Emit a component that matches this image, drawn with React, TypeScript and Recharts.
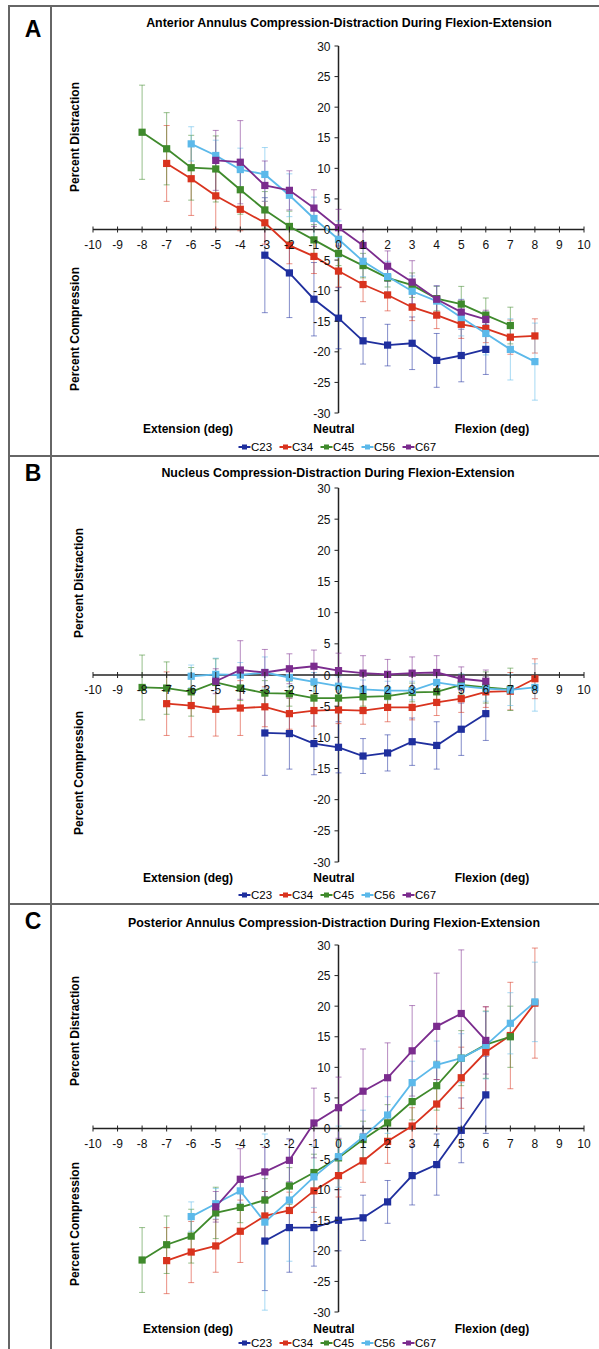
import React from 'react';
import { LineChart, Line, XAxis, YAxis, ErrorBar, ReferenceLine } from 'recharts';

// ---------- data ----------
const degrees = [-8, -7, -6, -5, -4, -3, -2, -1, 0, 1, 2, 3, 4, 5, 6, 7, 8];
const xTicks = [-10, -9, -8, -7, -6, -5, -4, -3, -2, -1, 0, 1, 2, 3, 4, 5, 6, 7, 8, 9, 10];
const yTicks = [-30, -25, -20, -15, -10, -5, 0, 5, 10, 15, 20, 25, 30];
const seriesNames = ['C23', 'C34', 'C45', 'C56', 'C67'];
const seriesColors = ['#1f2f9e', '#d9331e', '#3f8a2c', '#5cb9ea', '#7b2c8e'];

const N = null;
// A: anterior annulus
const antC23 = [N, N, N, N, N, -4.2, -7.1, -11.4, -14.5, -18.2, -18.9, -18.6, -21.4, -20.6, -19.6, N, N];
const antC23Err = [N, N, N, N, N, 9.4, 7.3, 6.0, 5.0, 3.8, 3.4, 4.3, 4.4, 4.3, 4.1, N, N];
const antC34 = [N, 10.8, 8.3, 5.5, 3.3, 1.1, -2.6, -4.4, -6.8, -9.0, -10.7, -12.7, -14.0, -15.5, -16.2, -17.6, -17.4];
const antC34Err = [N, 6.2, 6.0, 5.4, 3.5, 3.5, 3.0, 2.8, 2.6, 2.8, 2.6, 2.2, 2.2, 2.3, 2.3, 2.8, 2.8];
const antC45 = [15.9, 13.2, 10.1, 9.9, 6.5, 3.2, 0.5, -1.7, -3.9, -5.9, -7.9, -9.1, -11.3, -12.2, -14.0, -15.7, N];
const antC45Err = [7.7, 5.9, 5.3, 5.4, 4.0, 3.0, 2.5, 2.5, 2.0, 2.0, 1.5, 2.0, 2.0, 2.9, 2.8, 3.0, N];
const antC56 = [N, N, 14.0, 12.1, 9.8, 9.0, 5.6, 1.8, -1.6, -5.2, -7.7, -10.1, -11.7, -14.4, -17.0, -19.6, -21.6];
const antC56Err = [N, N, 2.8, 2.5, 3.5, 4.4, 3.5, 3.5, 3.0, 2.5, 2.5, 2.5, 2.5, 3.0, 3.5, 5.0, 6.3];
const antC67 = [N, N, N, 11.3, 11.0, 7.2, 6.4, 3.5, 0.3, -2.6, -6.0, -8.6, -11.4, -13.5, -14.7, N, N];
const antC67Err = [N, N, N, 4.9, 6.8, 4.0, 3.2, 3.0, 3.0, 2.5, 2.5, 3.5, 2.2, 2.0, 1.5, N, N];

// B: nucleus
const nucC23 = [N, N, N, N, N, -9.3, -9.4, -11.0, -11.6, -13.0, -12.5, -10.7, -11.3, -8.7, -6.2, N, N];
const nucC23Err = [N, N, N, N, N, 6.8, 5.7, 5.0, 4.1, 2.8, 2.9, 3.8, 3.8, 4.2, 4.3, N, N];
const nucC34 = [N, -4.6, -4.9, -5.5, -5.3, -5.1, -6.2, -5.7, -5.6, -5.7, -5.2, -5.2, -4.4, -3.8, -2.7, -2.6, -0.6];
const nucC34Err = [N, 5.1, 5.0, 4.3, 4.4, 3.2, 2.5, 2.5, 2.2, 2.2, 2.3, 2.0, 2.1, 2.2, 2.5, 3.0, 3.2];
const nucC45 = [-2.0, -2.1, -2.7, -1.2, -2.1, -2.9, -3.0, -3.7, -3.7, -3.5, -3.4, -2.8, -2.7, -1.6, -2.0, -2.3, N];
const nucC45Err = [5.2, 4.2, 3.9, 3.8, 2.0, 2.0, 2.0, 2.0, 2.0, 1.5, 1.5, 1.5, 1.5, 1.5, 2.5, 3.4, N];
const nucC56 = [N, N, -0.2, 0.1, 0.0, 0.4, -0.4, -1.1, -1.8, -2.3, -2.5, -2.5, -1.2, -1.8, -2.2, -2.4, -2.0];
const nucC56Err = [N, N, 1.8, 2.6, 2.0, 2.5, 1.5, 1.5, 1.5, 1.5, 1.5, 1.5, 1.5, 2.0, 2.0, 2.5, 3.8];
const nucC67 = [N, N, N, -1.0, 0.8, 0.4, 1.0, 1.4, 0.7, 0.3, 0.1, 0.3, 0.4, -0.6, -1.0, N, N];
const nucC67Err = [N, N, N, 2.0, 4.7, 3.7, 2.4, 2.6, 2.8, 2.8, 2.4, 2.6, 2.7, 1.9, 1.8, N, N];

// C: posterior annulus
const posC23 = [N, N, N, N, N, -18.4, -16.2, -16.2, -15.0, -14.6, -12.0, -7.7, -5.9, -0.3, 5.5, N, N];
const posC23Err = [N, N, N, N, N, 8.1, 7.3, 6.3, 5.0, 3.7, 3.5, 4.8, 5.0, 5.3, 6.3, N, N];
const posC34 = [N, -21.6, -20.2, -19.2, -16.8, -14.3, -13.4, -10.2, -7.7, -5.3, -2.1, 0.4, 4.0, 8.3, 12.5, 15.2, 20.5];
const posC34Err = [N, 5.4, 5.0, 4.3, 5.1, 4.0, 3.0, 3.5, 3.5, 3.5, 3.6, 3.0, 4.0, 5.0, 7.4, 8.7, 9.0];
const posC45 = [-21.5, -19.0, -17.6, -13.8, -12.9, -11.7, -9.4, -7.2, -4.8, -1.8, 0.9, 4.4, 7.0, 11.5, 13.7, 15.0, N];
const posC45Err = [5.3, 4.7, 4.4, 4.2, 2.5, 3.5, 3.0, 3.0, 3.0, 3.0, 3.0, 3.0, 4.0, 4.5, 5.5, 5.0, N];
const posC56 = [N, N, -14.4, -12.3, -10.2, -15.3, -11.7, -7.9, -4.6, -1.4, 2.2, 7.5, 10.4, 11.5, 13.6, 17.2, 20.7];
const posC56Err = [N, N, 2.4, 2.5, 2.0, 14.4, 10.0, 5.0, 5.0, 4.4, 3.0, 3.5, 3.9, 4.0, 5.5, 5.0, 6.5];
const posC67 = [N, N, N, -12.8, -8.3, -7.1, -5.2, 0.9, 3.4, 6.1, 8.3, 12.7, 16.7, 18.8, 14.4, N, N];
const posC67Err = [N, N, N, 2.5, 5.0, 4.0, 3.5, 5.7, 5.0, 6.9, 5.7, 7.4, 8.7, 10.4, 5.5, N, N];

const panelTitles = [
  'Anterior Annulus Compression-Distraction During Flexion-Extension',
  'Nucleus Compression-Distraction During Flexion-Extension',
  'Posterior Annulus Compression-Distraction During Flexion-Extension',
];
const panelLetters = ['A', 'B', 'C'];
const panelValues = [
  [antC23, antC34, antC45, antC56, antC67],
  [nucC23, nucC34, nucC45, nucC56, nucC67],
  [posC23, posC34, posC45, posC56, posC67],
];
const panelErrors = [
  [antC23Err, antC34Err, antC45Err, antC56Err, antC67Err],
  [nucC23Err, nucC34Err, nucC45Err, nucC56Err, nucC67Err],
  [posC23Err, posC34Err, posC45Err, posC56Err, posC67Err],
];

// ---------- layout ----------
const W = 599;
const H = 1349;
const PLOT_LEFT = 93;
const PLOT_RIGHT = 15;
const FONT = '"Liberation Sans", Arial, Helvetica, sans-serif';

const layouts = [
  { top: 0, height: 456, plotTop: 46, plotBottom: 413, titleX: 349, titleY: 27, letterY: 37, distX: 75, distY: 137, compX: 75, compY: 329, dirY: 433, legendY: 451 },
  { top: 456, height: 448, plotTop: 488, plotBottom: 862, titleX: 338, titleY: 477, letterY: 481, distX: 79, distY: 583, compX: 79, compY: 773, dirY: 882, legendY: 899 },
  { top: 904, height: 445, plotTop: 945, plotBottom: 1312, titleX: 334, titleY: 927, letterY: 929, distX: 75, distY: 1031, compX: 75, compY: 1224, dirY: 1333, legendY: 1347 },
];

function hexToRgba(hex: string, a: number) {
  const n = parseInt(hex.slice(1), 16);
  return `rgba(${(n >> 16) & 255},${(n >> 8) & 255},${n & 255},${a})`;
}

function squareDot(color: string) {
  return (props: any) => {
    const { cx, cy, index, value } = props;
    if (value == null || cx == null || cy == null || isNaN(cy)) return <g key={`d${index}`} />;
    return <rect key={`d${index}`} x={cx - 3.6} y={cy - 3.6} width={7.2} height={7.2} fill={color} />;
  };
}

function Panel({ p }: { p: number }) {
  const L = layouts[p];
  const data = degrees.map((x, i) => {
    const row: any = { x };
    panelValues[p].forEach((vals, k) => {
      row['v' + k] = vals[i];
      row['e' + k] = panelErrors[p][k][i];
    });
    return row;
  });
  const mTop = L.plotTop - L.top;
  const mBottom = L.top + L.height - L.plotBottom;
  const zeroY = mTop + (L.plotBottom - L.plotTop) / 2;
  const zeroX = PLOT_LEFT + (W - PLOT_LEFT - PLOT_RIGHT) / 2;

  const xTick = (props: any) => {
    const { x, payload } = props;
    return (
      <g>
        <line x1={x} x2={x} y1={zeroY - 3} y2={zeroY + 3} stroke="#222" strokeWidth={1} />
        <text x={x} y={zeroY + 19} textAnchor="middle" fontSize={12} fontFamily={FONT} fill="#111">{payload.value}</text>
      </g>
    );
  };
  const yTick = (props: any) => {
    const { y, payload } = props;
    return (
      <g>
        <line x1={zeroX - 4} x2={zeroX} y1={y} y2={y} stroke="#222" strokeWidth={1} />
        <text x={zeroX - 8} y={y + 4.5} textAnchor="end" fontSize={12} fontFamily={FONT} fill="#111">{payload.value}</text>
      </g>
    );
  };

  return (
    <div style={{ position: 'absolute', left: 0, top: L.top, width: W, height: L.height }}>
      <LineChart width={W} height={L.height} data={data} margin={{ top: mTop, right: PLOT_RIGHT, bottom: mBottom - 1, left: PLOT_LEFT - 1 }}>
        <XAxis dataKey="x" type="number" domain={[-10, 10]} ticks={xTicks} interval={0} height={1} axisLine={false} tickLine={false} tick={xTick} allowDataOverflow />
        <YAxis type="number" domain={[-30, 30]} ticks={yTicks} interval={0} width={1} axisLine={false} tickLine={false} tick={yTick} allowDataOverflow />
        <ReferenceLine y={0} stroke="#222" strokeWidth={1.5} />
        <ReferenceLine x={0} stroke="#222" strokeWidth={1.5} />
        {seriesNames.map((name, k) => (
          <Line
            key={name}
            name={name}
            dataKey={'v' + k}
            stroke={seriesColors[k]}
            strokeWidth={1.8}
            dot={squareDot(seriesColors[k])}
            activeDot={false}
            isAnimationActive={false}
            connectNulls={false}
          >
            <ErrorBar dataKey={'e' + k} direction="y" width={3} stroke={hexToRgba(seriesColors[k], 0.55)} strokeWidth={1} isAnimationActive={false} />
          </Line>
        ))}
      </LineChart>
    </div>
  );
}

function Overlay() {
  const legendItemW = 41;
  const legendStart = 339 - (seriesNames.length * legendItemW - 4) / 2;
  return (
    <svg width={W} height={H} style={{ position: 'absolute', left: 0, top: 0, pointerEvents: 'none' }}>
      {/* frame */}
      <line x1={9} x2={9} y1={5} y2={H} stroke="#666" strokeWidth={2} />
      <line x1={51} x2={51} y1={5} y2={H} stroke="#666" strokeWidth={2} />
      <line x1={8} x2={W} y1={6} y2={6} stroke="#666" strokeWidth={2} />
      <line x1={8} x2={W} y1={456} y2={456} stroke="#666" strokeWidth={2} />
      <line x1={8} x2={W} y1={904} y2={904} stroke="#666" strokeWidth={2} />
      {layouts.map((L, p) => (
        <g key={p} fontFamily={FONT} fill="#000">
          <text x={33} y={L.letterY} textAnchor="middle" fontSize={23} fontWeight="bold">{panelLetters[p]}</text>
          <text x={L.titleX} y={L.titleY} textAnchor="middle" fontSize={12.4} fontWeight="bold">{panelTitles[p]}</text>
          <text transform={`translate(${L.distX + 4},${L.distY}) rotate(-90)`} textAnchor="middle" fontSize={12} fontWeight="bold">Percent Distraction</text>
          <text transform={`translate(${L.compX + 4},${L.compY}) rotate(-90)`} textAnchor="middle" fontSize={12} fontWeight="bold">Percent Compression</text>
          <text x={188} y={L.dirY} textAnchor="middle" fontSize={12} fontWeight="bold">Extension (deg)</text>
          <text x={334} y={L.dirY} textAnchor="middle" fontSize={12} fontWeight="bold">Neutral</text>
          <text x={492} y={L.dirY} textAnchor="middle" fontSize={12} fontWeight="bold">Flexion (deg)</text>
          {seriesNames.map((name, k) => {
            const x0 = legendStart + k * legendItemW;
            const cy = L.legendY - 4;
            return (
              <g key={name}>
                <line x1={x0} x2={x0 + 12} y1={cy} y2={cy} stroke={seriesColors[k]} strokeWidth={2} />
                <rect x={x0 + 3.5} y={cy - 2.5} width={5} height={5} fill={seriesColors[k]} />
                <text x={x0 + 12.5} y={L.legendY} fontSize={11.5} fill="#000">{name}</text>
              </g>
            );
          })}
        </g>
      ))}
    </svg>
  );
}

export default function App() {
  return (
    <div style={{ position: 'relative', width: W, height: H, background: '#fff', overflow: 'hidden' }}>
      <style>{`body{margin:0;background:#fff}`}</style>
      {[0, 1, 2].map((p) => (
        <Panel key={p} p={p} />
      ))}
      <Overlay />
    </div>
  );
}
